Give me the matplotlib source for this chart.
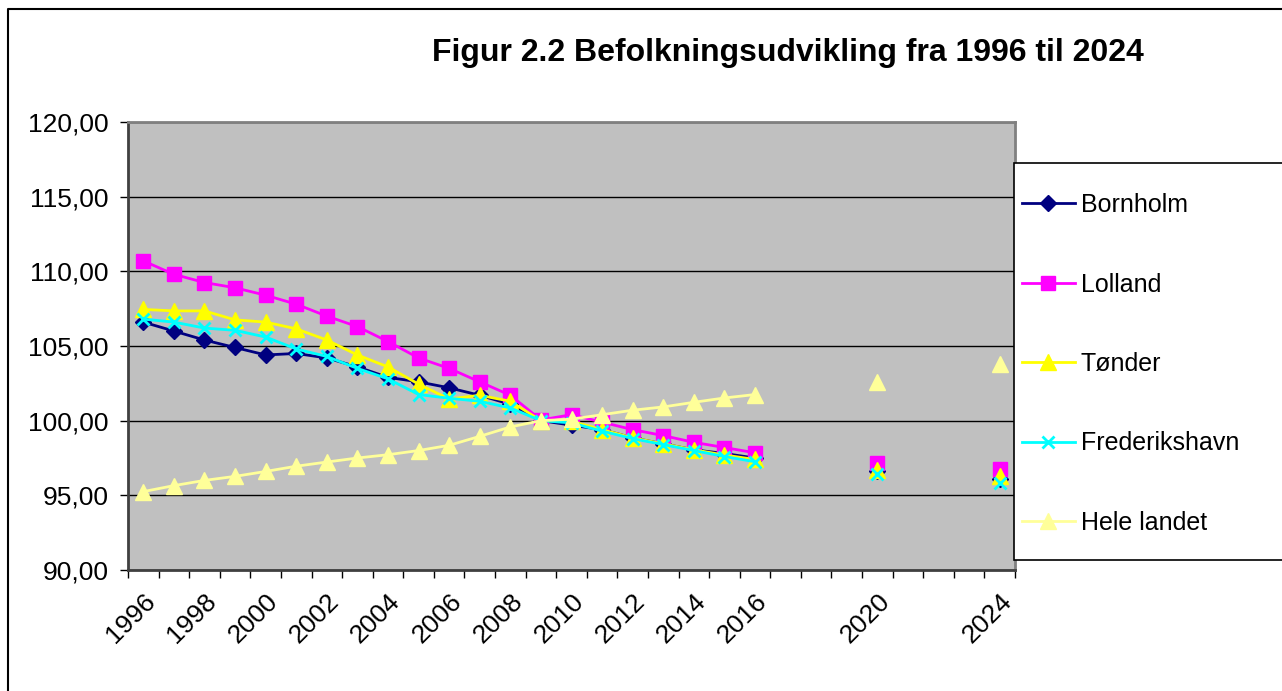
"""
Figur 2.2 - befolkningsudvikling, index 2009 = 100
"""
import numpy as np
import matplotlib
matplotlib.use('Agg')
import matplotlib.pyplot as plt
from matplotlib.lines import Line2D
from matplotlib.patches import Rectangle

plt.rcParams['font.family'] = ['Liberation Sans', 'DejaVu Sans']

W, H = 1282, 691

# categories 1996..2024, only some years have data
years = list(range(1996, 2025))
shown_labels = [1996, 1998, 2000, 2002, 2004, 2006, 2008, 2010, 2012, 2014, 2016, 2020, 2024]

nan = np.nan
# 1996..2016, then 2017-2019 empty, 2020, 2021-2023 empty, 2024
bornholm = [106.6, 106.0, 105.4, 104.9, 104.4, 104.5, 104.2, 103.6, 102.9, 102.6, 102.2,
            101.7, 101.1, 100.0, 99.7, 99.4, 98.85, 98.45, 98.05, 97.8, 97.5,
            nan, nan, nan, 96.6, nan, nan, nan, 96.1]
lolland = [110.7, 109.8, 109.25, 108.9, 108.4, 107.8, 107.0, 106.3, 105.3, 104.2, 103.5,
           102.6, 101.7, 100.05, 100.4, 99.9, 99.4, 99.0, 98.55, 98.2, 97.85,
           nan, nan, nan, 97.15, nan, nan, nan, 96.75]
toender = [107.45, 107.35, 107.35, 106.75, 106.6, 106.15, 105.4, 104.4, 103.6, 102.45, 101.45,
           101.7, 101.3, 100.0, 99.95, 99.4, 98.85, 98.45, 98.05, 97.7, 97.4,
           nan, nan, nan, 96.7, nan, nan, nan, 96.3]
frederikshavn = [106.8, 106.6, 106.2, 106.05, 105.6, 104.8, 104.3, 103.5, 102.8, 101.75, 101.5,
                 101.3, 100.85, 100.0, 99.85, 99.3, 98.8, 98.4, 98.0, 97.6, 97.25,
                 nan, nan, nan, 96.45, nan, nan, nan, 95.85]
hele_landet = [95.25, 95.65, 96.0, 96.27, 96.6, 96.95, 97.23, 97.5, 97.72, 98.0, 98.35,
               98.95, 99.58, 100.0, 100.1, 100.4, 100.7, 100.92, 101.23, 101.52, 101.75,
               nan, nan, nan, 102.6, nan, nan, nan, 103.82]

series = [
    ('Bornholm', bornholm, '#000080', 'D', 8, 1.0),
    ('Lolland', lolland, '#FF00FF', 's', 10, 1.0),
    ('Tønder', toender, '#FFFF00', '^', 11, 1.0),
    ('Frederikshavn', frederikshavn, '#00FFFF', 'x', 9, 2.0),
    ('Hele landet', hele_landet, '#FFFF99', '^', 11, 1.0),
]

fig = plt.figure(figsize=(W / 100, H / 100), dpi=100)
fig.patch.set_facecolor('white')

# plot area in pixels
x0, x1, y0, y1 = 128, 1015, 122, 570
ax = fig.add_axes([x0 / W, 1 - y1 / H, (x1 - x0) / W, (y1 - y0) / H])
ax.set_facecolor('#C0C0C0')

x = np.arange(len(years))
for name, vals, col, mk, ms, mew in series:
    ax.plot(x, vals, color=col, lw=2, marker=mk, markersize=ms,
            markerfacecolor=col, markeredgecolor=col, markeredgewidth=mew,
            label=name)

ax.set_xlim(-0.5, len(years) - 0.5)
ax.set_ylim(90, 120)

# y axis, danish decimal comma
yt = np.arange(90, 121, 5)
ax.set_yticks(yt)
ax.set_yticklabels([('%.2f' % v).replace('.', ',') for v in yt], fontsize=19)
ax.yaxis.grid(True, color='black', lw=1)
ax.set_axisbelow(True)
ax.tick_params(axis='y', direction='out', length=6, width=1, pad=8, color='black')

# x axis: ticks between categories, labels on some categories
ax.set_xticks(np.arange(-0.5, len(years), 1.0), minor=True)
pos = [years.index(y) for y in shown_labels]
ax.set_xticks(pos)
ax.set_xticklabels([str(y) for y in shown_labels], fontsize=19, rotation=45,
                   ha='right', rotation_mode='anchor')
ax.tick_params(axis='x', which='major', length=0, pad=14)
ax.tick_params(axis='x', which='minor', direction='out', length=6, width=1, color='black')

for s in ax.spines.values():
    s.set_color('#808080')
    s.set_linewidth(2)
ax.spines['left'].set_color('#404040')
ax.spines['bottom'].set_color('#404040')

# title
fig.text(788 / W, 1 - 53 / H, 'Figur 2.2 Befolkningsudvikling fra 1996 til 2024',
         ha='center', va='center', fontsize=23, fontweight='bold')

# legend box (runs off the right edge)
fig.add_artist(Rectangle((1014 / W, 1 - 560 / H), (W - 1014 + 10) / W, (560 - 163) / H,
                         transform=fig.transFigure, facecolor='white',
                         edgecolor='black', lw=1.2))
handles, labels = ax.get_legend_handles_labels()
leg = fig.legend(handles, labels, loc='upper left',
                 bbox_to_anchor=(1022 / W, 1 - 193 / H), frameon=False,
                 fontsize=18, handlelength=2.1, handletextpad=0.25,
                 labelspacing=2.22, borderaxespad=0, borderpad=0)

# outer chart border, left and top only
fig.add_artist(Line2D([8 / W, 8 / W, 1], [0, 1 - 9 / H, 1 - 9 / H],
                      transform=fig.transFigure, color='black', lw=1.5))

plt.savefig('out.png', dpi=100)
